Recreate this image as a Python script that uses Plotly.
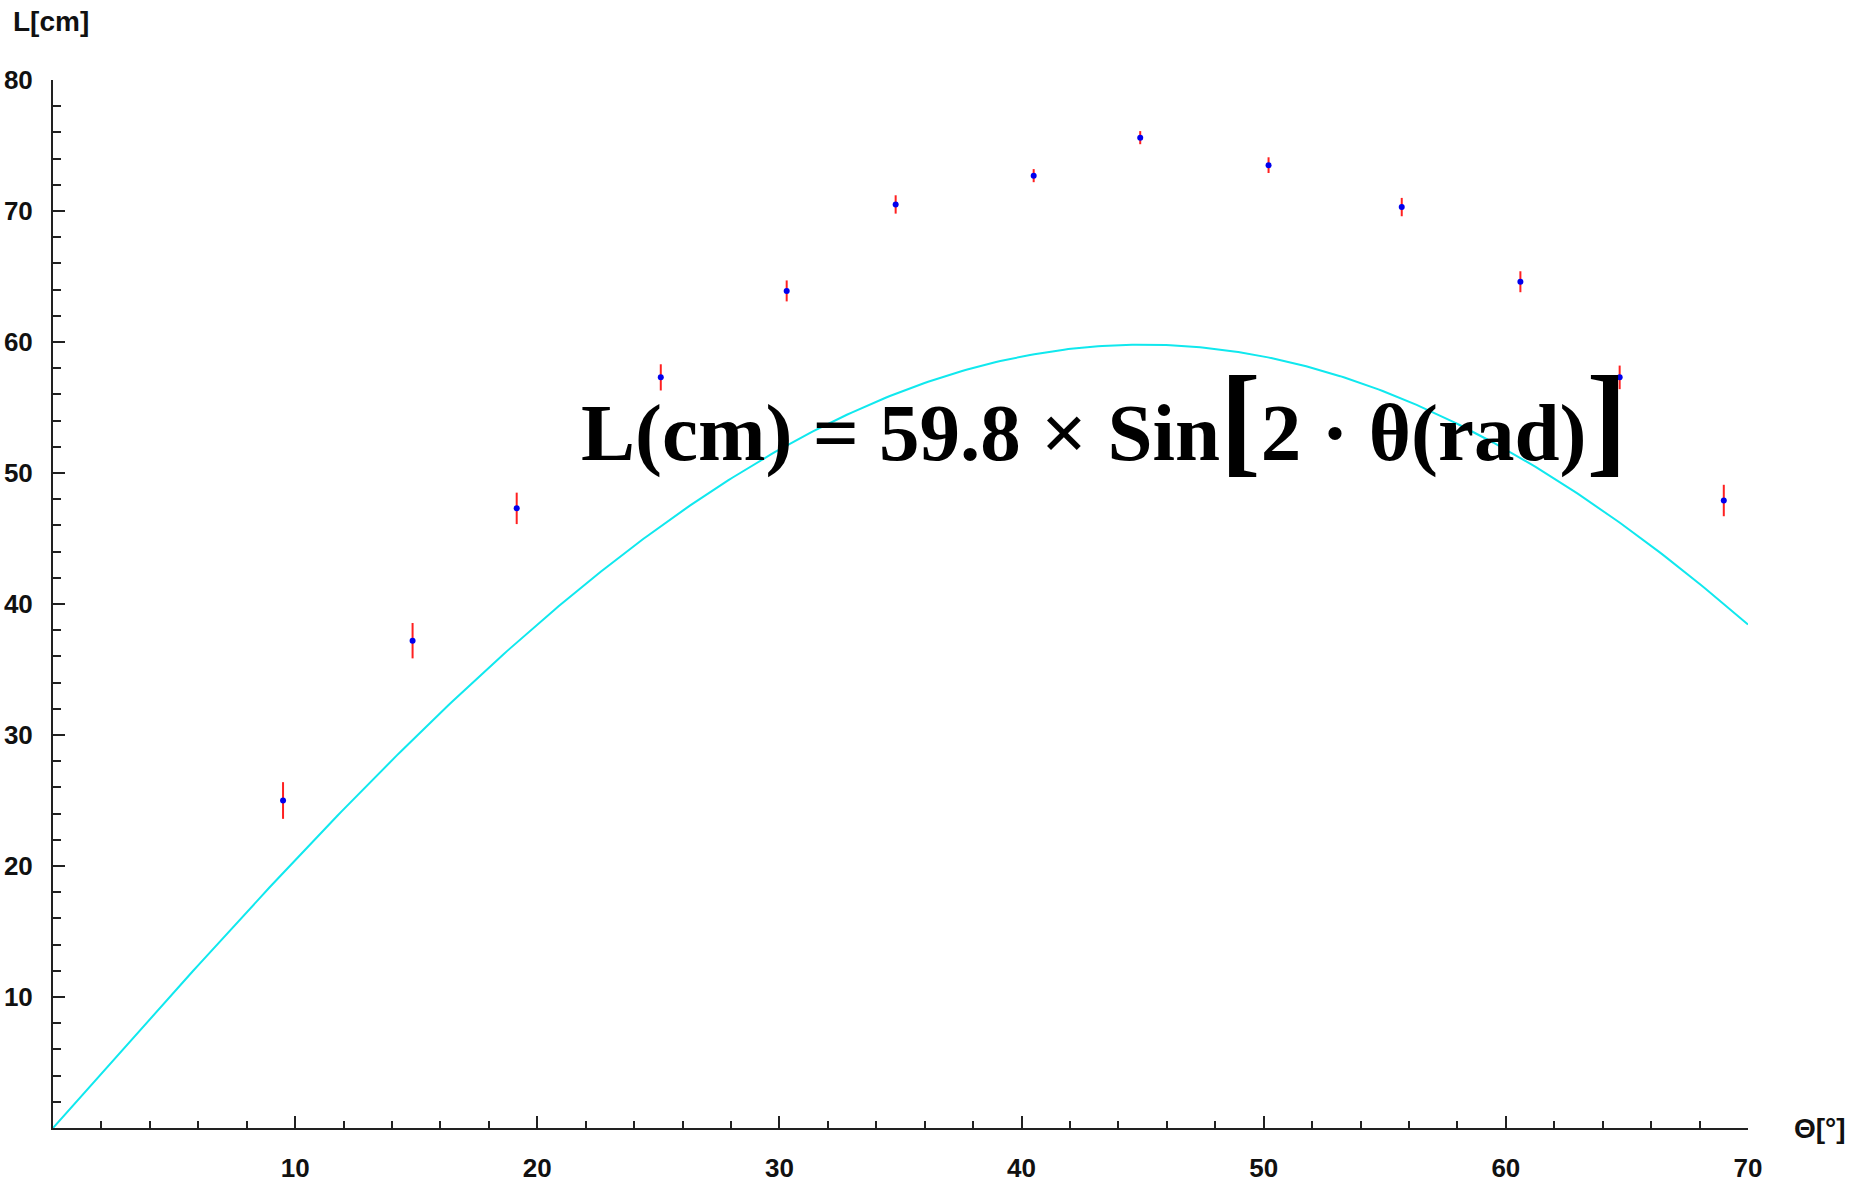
import numpy as np
import plotly.graph_objects as go

# Measured data
theta_deg = [9.5, 14.85, 19.15, 25.1, 30.3, 34.8, 40.5, 44.9, 50.2, 55.7, 60.6, 64.7, 69.0]
length_cm = [25.0, 37.2, 47.3, 57.3, 63.9, 70.5, 72.7, 75.6, 73.5, 70.3, 64.6, 57.3, 47.9]
length_err = [1.4, 1.35, 1.2, 1.0, 0.8, 0.7, 0.5, 0.5, 0.6, 0.7, 0.8, 0.9, 1.2]

# Model curve L = A * sin(2 theta)
amplitude = 59.8
curve_theta = np.linspace(0, 70, 400)
curve_L = amplitude * np.sin(2 * np.radians(curve_theta))

x_ticks = [10, 20, 30, 40, 50, 60, 70]
y_ticks = [10, 20, 30, 40, 50, 60, 70, 80]

fig = go.Figure()
fig.add_trace(go.Scatter(x=curve_theta, y=curve_L, mode="lines",
                         line=dict(color="#10e8ee", width=2), hoverinfo="skip"))
fig.add_trace(go.Scatter(x=theta_deg, y=length_cm, mode="markers",
                         marker=dict(color="#0000ee", size=6, symbol="circle"),
                         error_y=dict(type="data", array=length_err, color="#ff2020",
                                      thickness=2, width=0)))

tickfont = dict(family="Liberation Sans", size=26, color="#111111")
axis_common = dict(showgrid=False, zeroline=False, showline=True, linecolor="#222222",
                   linewidth=2, ticks="inside", tickwidth=2, tickcolor="#222222",
                   ticklen=12, tickfont=tickfont, automargin=False)

fig.update_xaxes(range=[0, 70], tickvals=x_ticks, ticktext=[f"<b>{v}</b>" for v in x_ticks],
                 minor=dict(ticks="inside", dtick=2, ticklen=7, tickwidth=2, tickcolor="#222222"),
                 ticklabelstandoff=16, **axis_common)
fig.update_yaxes(range=[0, 80], tickvals=y_ticks, ticktext=[f"<b>{v}</b>" for v in y_ticks],
                 minor=dict(ticks="inside", dtick=2, ticklen=8, tickwidth=2, tickcolor="#222222"),
                 ticklabelstandoff=13, **axis_common)

big = "font-size:122px"
formula = ("<b>L(cm) = 59.8 × Sin<span style='%s'>[</span>2 · θ(rad)"
           "<span style='%s'>]</span></b>") % (big, big)
title_font = dict(family="Liberation Sans", size=28, color="#111111")

fig.update_layout(
    width=1858, height=1185,
    margin=dict(l=53, r=110, t=80, b=57),
    paper_bgcolor="white", plot_bgcolor="white",
    showlegend=False,
    annotations=[
        dict(text="<b>L[cm]</b>", xref="paper", yref="paper", x=-0.0245, y=1.056,
             xanchor="left", yanchor="middle", showarrow=False, font=title_font),
        dict(text="<b>Θ[°]</b>", xref="paper", yref="paper", x=1.026, y=0.0,
             xanchor="left", yanchor="middle", showarrow=False, font=title_font),
        dict(text=formula, xref="paper", yref="paper", x=0.3105, y=0.677,
             xanchor="left", yanchor="middle", showarrow=False,
             font=dict(family="Liberation Serif", size=81, color="#000000")),
    ],
)

fig.write_html("out.html")
